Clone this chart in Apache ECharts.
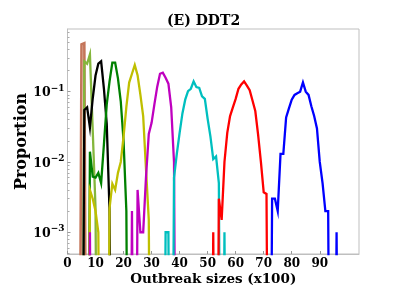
<!DOCTYPE html>
<html>
<head>
<meta charset="utf-8">
<script src="https://cdn.jsdelivr.net/npm/echarts@6/dist/echarts.min.js"></script>
<style>
html,body{margin:0;padding:0;background:#fff;}
#chart{width:399px;height:300px;}
</style>
</head>
<body>
<div id="chart"></div>
<script>
// ---- data (outbreak size in units of 100, proportion) ----
const xTicks = [0, 10, 20, 30, 40, 50, 60, 70, 80, 90];
const yTicks = [0.001, 0.01, 0.1];

const brownStart = 4;
const brownVals = [0, 0.47, 0.49, 0];
const yellowgreenStart = 5;
const yellowgreenVals = [0, 0.27, 0.25, 0.34, 0.028, 0.0022, 0];
const blackStart = 5;
const blackVals = [0, 0.055, 0.06, 0.031, 0.08, 0.17, 0.25, 0.27, 0.11, 0.035, 0.002, 0];
const greenStart = 7;
const greenVals = [0, 0.014, 0.0062, 0.006, 0.007, 0.005, 0.018, 0.066, 0.14, 0.26, 0.26, 0.155, 0.073, 0.02, 0.002, 0];
const yellowStart = 7;
const yellowVals = [0, 0.004, 0.003, 0.002, 0.001, 0, 0, 0, 0.0022, 0.0049, 0.004, 0.007, 0.01, 0.023, 0.061, 0.135, 0.18, 0.24, 0.172, 0.091, 0.045, 0.008, 0.0015, 0];
const magentaStart = 7;
const magentaVals = [0, 0.001, 0, 0, 0, 0, 0, 0, 0, 0, 0, 0, 0, 0, 0, 0, 0.002, 0, 0.004, 0.001, 0.001, 0.006, 0.025, 0.036, 0.066, 0.117, 0.18, 0.186, 0.158, 0.13, 0.06, 0.01, 0];
const cyanStart = 34;
const cyanVals = [0, 0.001, 0.001, 0, 0.006, 0.013, 0.026, 0.049, 0.077, 0.102, 0.11, 0.14, 0.116, 0.113, 0.086, 0.079, 0.041, 0.023, 0.011, 0.012, 0.005, 0, 0.001, 0];
const redStart = 51;
const redVals = [0, 0.001, 0, 0.003, 0.0015, 0.01, 0.026, 0.045, 0.06, 0.079, 0.11, 0.127, 0.14, 0.122, 0.105, 0.075, 0.053, 0.0245, 0.01, 0.0037, 0.0035, 0];
const blueStart = 72;
const blueVals = [0, 0.003, 0.003, 0.002, 0.013, 0.013, 0.043, 0.058, 0.077, 0.09, 0.095, 0.1, 0.135, 0.1, 0.09, 0.062, 0.045, 0.03, 0.01, 0.005, 0.002, 0.002, 0, 0, 0.001, 0];

const seriesDefs = [
  {start: brownStart, vals: brownVals, color: '#c4755a', width: 2.6},
  {start: yellowgreenStart, vals: yellowgreenVals, color: '#84b63c', width: 2.3},
  {start: blackStart, vals: blackVals, color: '#000000', width: 2.3},
  {start: greenStart, vals: greenVals, color: '#008000', width: 2.3},
  {start: yellowStart, vals: yellowVals, color: '#bfbf00', width: 2.3},
  {start: magentaStart, vals: magentaVals, color: '#bf00bf', width: 2.3},
  {start: cyanStart, vals: cyanVals, color: '#00bfbf', width: 2.3},
  {start: redStart, vals: redVals, color: '#ff0000', width: 2.3},
  {start: blueStart, vals: blueVals, color: '#0000ff', width: 2.3}
];

// zero counts are drawn as a drop off the bottom of the log axis (clipped)
const FLOOR = 1e-9;
const series = seriesDefs.map(d => ({
  type: 'line',
  data: d.vals.map((v, i) => [d.start + i, v > 0 ? v : FLOOR]),
  showSymbol: false,
  symbol: 'none',
  clip: true,
  lineStyle: {color: d.color, width: d.width, join: 'miter'},
  itemStyle: {color: d.color},
  animation: false
}));

const minorY = [];
[0.0001, 0.001, 0.01, 0.1].forEach(b => { for (let k = 2; k <= 9; k++) minorY.push(b * k); });

const font = 'DejaVu Serif';
const chart = echarts.init(document.getElementById('chart'), null, {renderer: 'canvas'});
chart.setOption({
  animation: false,
  backgroundColor: '#ffffff',
  title: {
    text: '(E) DDT2',
    left: 203.5,
    textAlign: 'center',
    top: 14,
    padding: 0,
    textStyle: {fontFamily: font, fontWeight: 'bold', fontSize: 14, color: '#000'}
  },
  grid: {left: 67.5, right: 40, top: 29, bottom: 46, show: true, borderColor: '#bfbfbf', borderWidth: 1, backgroundColor: 'transparent'},
  xAxis: {
    type: 'value',
    min: 0, max: 104,
    interval: 10,
    name: 'Outbreak sizes (x100)',
    nameLocation: 'middle',
    nameGap: 18,
    nameMoveOverlap: false,
    nameTextStyle: {fontFamily: font, fontWeight: 'bold', fontSize: 13.5, color: '#000'},
    axisLine: {show: true, lineStyle: {color: '#bfbfbf', width: 1}},
    axisTick: {show: true, inside: true, length: 3, lineStyle: {color: '#999'}, customValues: xTicks},
    axisLabel: {fontFamily: font, fontWeight: 'bold', fontSize: 12, color: '#000', margin: 4, customValues: xTicks},
    splitLine: {show: false}
  },
  yAxis: [{
    type: 'log',
    logBase: 10,
    min: 0.00049, max: 0.78,
    name: 'Proportion',
    nameLocation: 'middle',
    nameGap: 38,
    nameMoveOverlap: false,
    nameTextStyle: {fontFamily: font, fontWeight: 'bold', fontSize: 16, color: '#000'},
    axisLine: {show: true, lineStyle: {color: '#bfbfbf', width: 1}},
    axisTick: {show: true, inside: true, length: 3, lineStyle: {color: '#999'}, customValues: yTicks},
    axisLabel: {
      customValues: yTicks,
      margin: 3,
      formatter: v => '{b|10}{s|−' + Math.round(-Math.log10(v)) + '}',
      rich: {
        b: {fontFamily: font, fontWeight: 'bold', fontSize: 12.5, color: '#000', lineHeight: 16, verticalAlign: 'bottom'},
        s: {fontFamily: font, fontWeight: 'bold', fontSize: 9, color: '#000', lineHeight: 16, verticalAlign: 'top'}
      }
    },
    splitLine: {show: false}
  }, {
    type: 'log',
    logBase: 10,
    min: 0.00049, max: 0.78,
    position: 'left',
    axisLine: {show: false},
    axisTick: {show: true, inside: true, length: 2, lineStyle: {color: '#aaa'}, customValues: minorY},
    axisLabel: {show: false},
    splitLine: {show: false}
  }],
  series: series
});
</script>
</body>
</html>
